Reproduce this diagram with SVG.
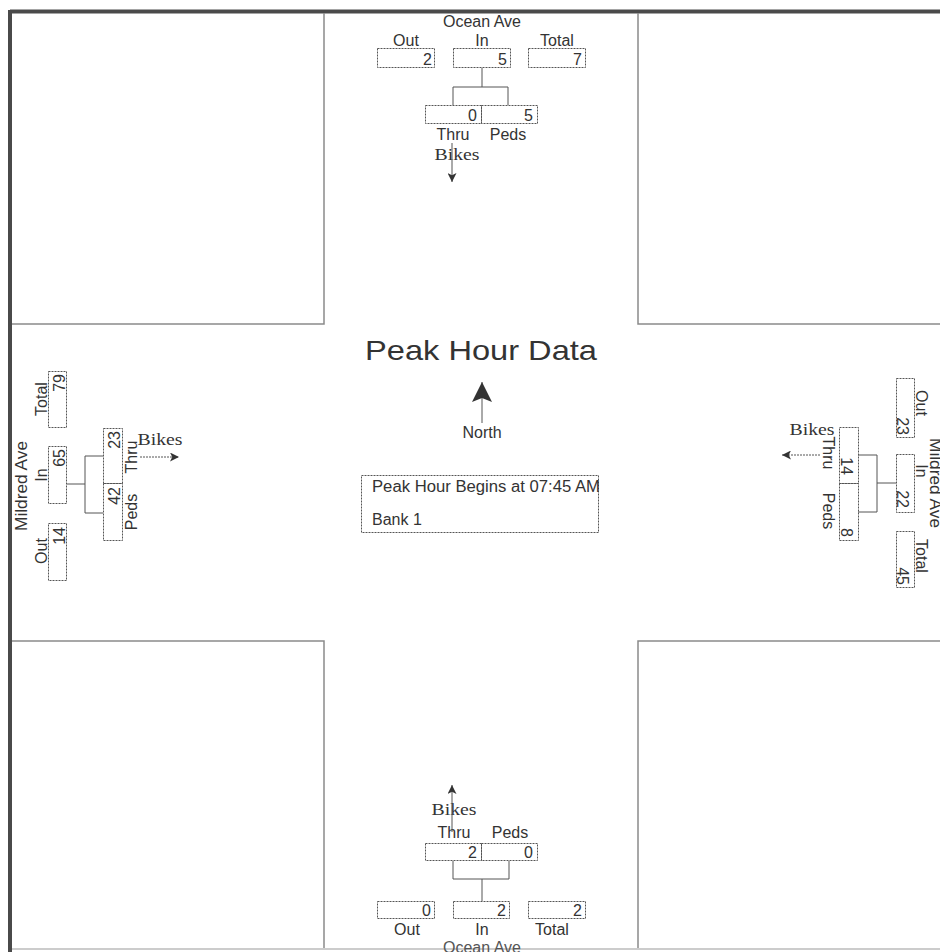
<svg xmlns="http://www.w3.org/2000/svg" width="940" height="952" viewBox="0 0 940 952">
<style>
.lbl{font-family:"Liberation Sans",Arial,sans-serif;font-size:16px;fill:#333}
.mid{text-anchor:middle}
.end{text-anchor:end}
.bk{font-family:"Liberation Serif","Times New Roman",serif;font-size:17px;fill:#333;text-anchor:middle}
.box{fill:none;stroke:#555;stroke-width:1;stroke-dasharray:2 1}
.conn{fill:none;stroke:#555;stroke-width:1}
.arr{fill:none;stroke:#555;stroke-width:1}
.sq{fill:none;stroke:#8a8a8a;stroke-width:1.5}
</style>
<defs>
<marker id="ah" viewBox="0 0 10 10" refX="10" refY="5" markerWidth="9" markerHeight="9" markerUnits="userSpaceOnUse" orient="auto">
<path d="M0,0 L10,5 L0,10 L2.5,5 z" fill="#333"/>
</marker>
<marker id="ahN" viewBox="0 0 10 10" refX="10" refY="5" markerWidth="20" markerHeight="20" markerUnits="userSpaceOnUse" orient="auto">
<path d="M0,0 L10,5 L0,10 L2,5 z" fill="#333"/>
</marker>
</defs>
<rect width="940" height="952" fill="#fff"/>
<g id="frame">
<line x1="10" y1="11.5" x2="940" y2="11.5" stroke="#4a4a4a" stroke-width="4"/>
<line x1="10" y1="10" x2="10" y2="952" stroke="#4a4a4a" stroke-width="4"/>
<line x1="12" y1="949" x2="940" y2="949" stroke="#bbb" stroke-width="1.5"/>
<path class="sq" d="M324,13 V324 H12"/>
<path class="sq" d="M638,13 V324 H940"/>
<path class="sq" d="M12,641 H324 V948"/>
<path class="sq" d="M940,641 H638 V948"/>
</g>
<g id="center">
<text class="lbl mid" x="481" y="360" font-size="28" style="font-size:28px" textLength="232" lengthAdjust="spacingAndGlyphs">Peak Hour Data</text>
<line class="arr" x1="482" y1="423" x2="482" y2="382" marker-end="url(#ahN)"/>
<text class="lbl mid" x="482" y="438">North</text>
<rect x="361.5" y="475.5" width="237" height="57" class="box"/>
<text class="lbl" x="372" y="492" textLength="228" lengthAdjust="spacingAndGlyphs">Peak Hour Begins at 07:45 AM</text>
<text class="lbl" x="372" y="525">Bank 1</text>
</g>
<g id="north-approach">
<text class="lbl mid" x="482" y="27">Ocean Ave</text>
<text class="lbl mid" x="406" y="46">Out</text>
<text class="lbl mid" x="482" y="46">In</text>
<text class="lbl mid" x="557" y="46">Total</text>
<rect class="box" x="377.5" y="48.5" width="57" height="19"/>
<rect class="box" x="453.5" y="48.5" width="57" height="19"/>
<rect class="box" x="528.5" y="48.5" width="57" height="19"/>
<text class="lbl end" x="432" y="65">2</text>
<text class="lbl end" x="507" y="65">5</text>
<text class="lbl end" x="582" y="65">7</text>
<rect class="box" x="425.5" y="105.5" width="56" height="18"/>
<rect class="box" x="481.5" y="105.5" width="56" height="18"/>
<text class="lbl end" x="477" y="121">0</text>
<text class="lbl end" x="533" y="121">5</text>
<text class="lbl mid" x="453" y="140">Thru</text>
<text class="lbl mid" x="508" y="140">Peds</text>
<text class="bk" x="457" y="160" textLength="45" lengthAdjust="spacingAndGlyphs">Bikes</text>
</g>
<g id="south-approach">
<text class="bk" x="454" y="815" textLength="45" lengthAdjust="spacingAndGlyphs">Bikes</text>
<text class="lbl mid" x="454" y="838">Thru</text>
<text class="lbl mid" x="510" y="838">Peds</text>
<rect class="box" x="425.5" y="843.5" width="56" height="17"/>
<rect class="box" x="481.5" y="843.5" width="56" height="17"/>
<text class="lbl end" x="477" y="858">2</text>
<text class="lbl end" x="533" y="858">0</text>
<rect class="box" x="377.5" y="901.5" width="57" height="17"/>
<rect class="box" x="453.5" y="901.5" width="56" height="17"/>
<rect class="box" x="528.5" y="901.5" width="57" height="17"/>
<text class="lbl end" x="431" y="916">0</text>
<text class="lbl end" x="506" y="916">2</text>
<text class="lbl end" x="582" y="916">2</text>
<text class="lbl mid" x="407" y="935">Out</text>
<text class="lbl mid" x="482" y="935">In</text>
<text class="lbl mid" x="552" y="935">Total</text>
<text class="lbl mid" x="482" y="953" fill="#555" style="fill:#555">Ocean Ave</text>
</g>
<g id="west-approach">
<text class="lbl mid" transform="translate(27,486) rotate(-90)" textLength="90" lengthAdjust="spacingAndGlyphs">Mildred Ave</text>
<text class="lbl mid" transform="translate(47,399) rotate(-90)">Total</text>
<text class="lbl mid" transform="translate(47,475) rotate(-90)">In</text>
<text class="lbl mid" transform="translate(47,551) rotate(-90)">Out</text>
<rect class="box" x="48.5" y="371.5" width="18" height="56"/>
<rect class="box" x="48.5" y="446.5" width="18" height="57"/>
<rect class="box" x="48.5" y="523.5" width="18" height="57"/>
<text class="lbl end" transform="translate(65,374) rotate(-90)">79</text>
<text class="lbl end" transform="translate(65,449) rotate(-90)">65</text>
<text class="lbl end" transform="translate(65,527) rotate(-90)">14</text>
<rect class="box" x="103.5" y="428.5" width="19" height="55"/>
<rect class="box" x="103.5" y="483.5" width="19" height="57"/>
<text class="lbl end" transform="translate(120,431) rotate(-90)">23</text>
<text class="lbl end" transform="translate(120,487) rotate(-90)">42</text>
<text class="lbl mid" transform="translate(137,457) rotate(-90)">Thru</text>
<text class="lbl mid" transform="translate(137,512) rotate(-90)">Peds</text>
<text class="bk" x="160" y="445" textLength="45" lengthAdjust="spacingAndGlyphs">Bikes</text>
</g>
<g id="east-approach">
<text class="lbl mid" transform="translate(930,483) rotate(90)" textLength="90" lengthAdjust="spacingAndGlyphs">Mildred Ave</text>
<rect class="box" x="896.5" y="378.5" width="18" height="59"/>
<rect class="box" x="896.5" y="454.5" width="18" height="58"/>
<rect class="box" x="896.5" y="531.5" width="18" height="56"/>
<text class="lbl mid" transform="translate(916,403) rotate(90)">Out</text>
<text class="lbl mid" transform="translate(916,471) rotate(90)">In</text>
<text class="lbl mid" transform="translate(916,556) rotate(90)">Total</text>
<text class="lbl end" transform="translate(897,435) rotate(90)">23</text>
<text class="lbl end" transform="translate(897,508) rotate(90)">22</text>
<text class="lbl end" transform="translate(897,585) rotate(90)">45</text>
<rect class="box" x="839.5" y="427.5" width="19" height="56"/>
<rect class="box" x="839.5" y="483.5" width="19" height="57"/>
<text class="lbl end" transform="translate(841,475) rotate(90)">14</text>
<text class="lbl end" transform="translate(841,537) rotate(90)">8</text>
<text class="lbl mid" transform="translate(823,453) rotate(90)">Thru</text>
<text class="lbl mid" transform="translate(823,511) rotate(90)">Peds</text>
<text class="bk" x="812" y="435" textLength="45" lengthAdjust="spacingAndGlyphs">Bikes</text>
</g>
<g id="connectors">
<path class="conn" d="M482,68 V87 M453,105 V87 H508 V105"/>
<path class="conn" d="M482,901 V879 M453,861 V879 H509 V861"/>
<path class="conn" d="M67,484 H85 M103,456 H85 V513 H103"/>
<path class="conn" d="M896,483 H877 M858,455 H877 V512 H858"/>
<line class="arr" x1="452" y1="143" x2="452" y2="182" marker-end="url(#ah)"/>
<line class="arr" x1="452" y1="832" x2="452" y2="785" marker-end="url(#ah)"/>
<line class="arr" x1="140" y1="457" x2="179" y2="457" stroke-dasharray="2 1" marker-end="url(#ah)"/>
<line class="arr" x1="820" y1="455" x2="782" y2="455" stroke-dasharray="2 1" marker-end="url(#ah)"/>
</g>
</svg>
